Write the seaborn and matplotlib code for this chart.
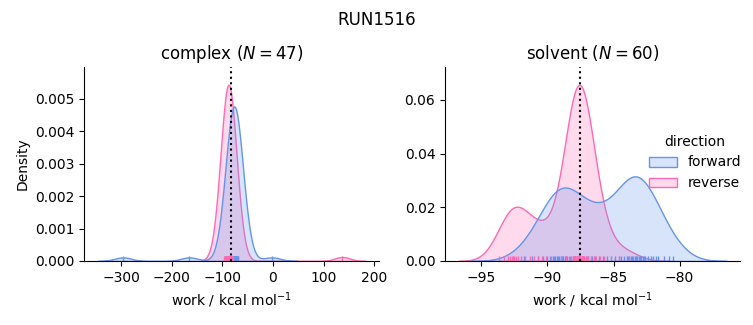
import numpy as np
import pandas as pd
import matplotlib
matplotlib.use("Agg")
import matplotlib.pyplot as plt
import seaborn as sns

run_name = "RUN1516"
phases = ["complex", "solvent"]
phase_n = [47, 60]
free_energy_estimates = [-83.0, -87.55]

complex_forward = [
    -296.0, -165.0, -2.0,
    -84.0, -83.0, -82.2, -81.5, -80.9, -80.4, -79.9, -79.7, -79.5, -79.1,
    -78.8, -78.5, -78.2, -78.0, -77.9, -77.7, -77.5, -77.3, -77.1, -76.9,
    -76.7, -76.5, -76.3, -76.1, -76.0, -75.9, -75.7, -75.5, -75.3, -75.1,
    -74.9, -74.6, -74.3, -74.0, -73.7, -73.4, -73.0, -72.6, -72.2, -71.7,
    -71.2, -70.6, -70.0, -69.3,
]
complex_reverse = [
    137.0,
    -96.0, -95.0, -94.2, -93.5, -92.9, -92.4, -91.9, -91.5, -91.1, -90.8,
    -90.5, -90.2, -89.9, -89.7, -89.5, -89.3, -89.1, -88.9, -88.7, -88.5,
    -88.3, -88.1, -87.9, -87.7, -87.5, -87.3, -87.1, -86.9, -86.7, -86.5,
    -86.3, -86.0, -85.7, -85.4, -85.1, -84.8, -84.4, -84.0, -83.6, -83.2,
    -82.7, -82.2, -81.6, -81.0, -80.3, -79.5,
]
solvent_forward = [
    -91.8, -91.2, -90.7, -90.3, -90.0, -89.8, -89.6, -89.5, -89.4, -89.3,
    -89.2, -89.1, -89.0, -88.9, -88.8, -88.7, -88.6, -88.5, -88.3, -88.1,
    -87.9, -87.6, -87.3, -87.0, -86.9, -86.7, -86.6, -86.4, -86.1,
    -85.8, -85.5, -85.2, -84.9, -84.6, -84.4, -84.2, -84.0, -83.9, -83.8,
    -83.7, -83.6, -83.5, -83.4, -83.3, -83.3, -83.2, -83.1, -83.0, -82.9,
    -82.8, -82.7, -82.6, -82.4, -82.2, -82.0, -81.8, -81.6, -81.2,
    -80.8, -80.5,
]
solvent_reverse = [
    -93.7, -93.3, -93.0, -92.8, -92.7, -92.6, -92.5, -92.4, -92.2, -92.0,
    -91.7, -91.3, -91.0, -90.7, -90.4, -90.1, -89.7,
    -89.0, -88.6, -88.4, -88.2, -88.1, -88.0, -88.0, -87.9, -87.9, -87.9,
    -87.8, -87.8, -87.8, -87.8, -87.7, -87.7, -87.7, -87.7, -87.6, -87.6,
    -87.6, -87.6, -87.5, -87.5, -87.5, -87.5, -87.4, -87.4, -87.4, -87.3,
    -87.3, -87.2, -87.2, -87.1, -87.0, -86.9, -86.7, -86.5, -86.3, -86.0,
    -85.7, -84.6, -83.8,
]

rows = []
for phase, fwd, rev in [("complex", complex_forward, complex_reverse),
                        ("solvent", solvent_forward, solvent_reverse)]:
    for w in fwd:
        rows.append({"phase": phase, "direction": "forward", "work": w})
    for w in rev:
        rows.append({"phase": phase, "direction": "reverse", "work": w})
df = pd.DataFrame(rows)

g = sns.displot(
    data=df, x="work", hue="direction", col="phase", kind="kde",
    fill=True, rug=True, common_norm=True,
    hue_order=["forward", "reverse"],
    palette={"forward": "cornflowerblue", "reverse": "hotpink"},
    facet_kws=dict(sharex=False, sharey=False),
    height=3.25, aspect=1.1,
)

for ax, phase, n, est in zip(g.axes.flat, phases, phase_n, free_energy_estimates):
    ax.axvline(est, color="black", linestyle=":", linewidth=1.5)
    ax.set_title(f"{phase} ($N={n}$)")
    ax.set_xlabel(r"work / kcal mol$^{-1}$")
g.axes.flat[0].set_ylabel("Density")
g.axes.flat[1].set_ylabel("")

g.figure.suptitle(run_name, y=0.965)
g.figure.set_size_inches(7.53, 3.25)
g.figure.subplots_adjust(left=0.1116, right=0.9827, bottom=0.197, top=0.794, wspace=0.224)
sns.move_legend(g, "center", bbox_to_anchor=(0.923, 0.5), frameon=False)

g.figure.savefig("out.png", dpi=100)
